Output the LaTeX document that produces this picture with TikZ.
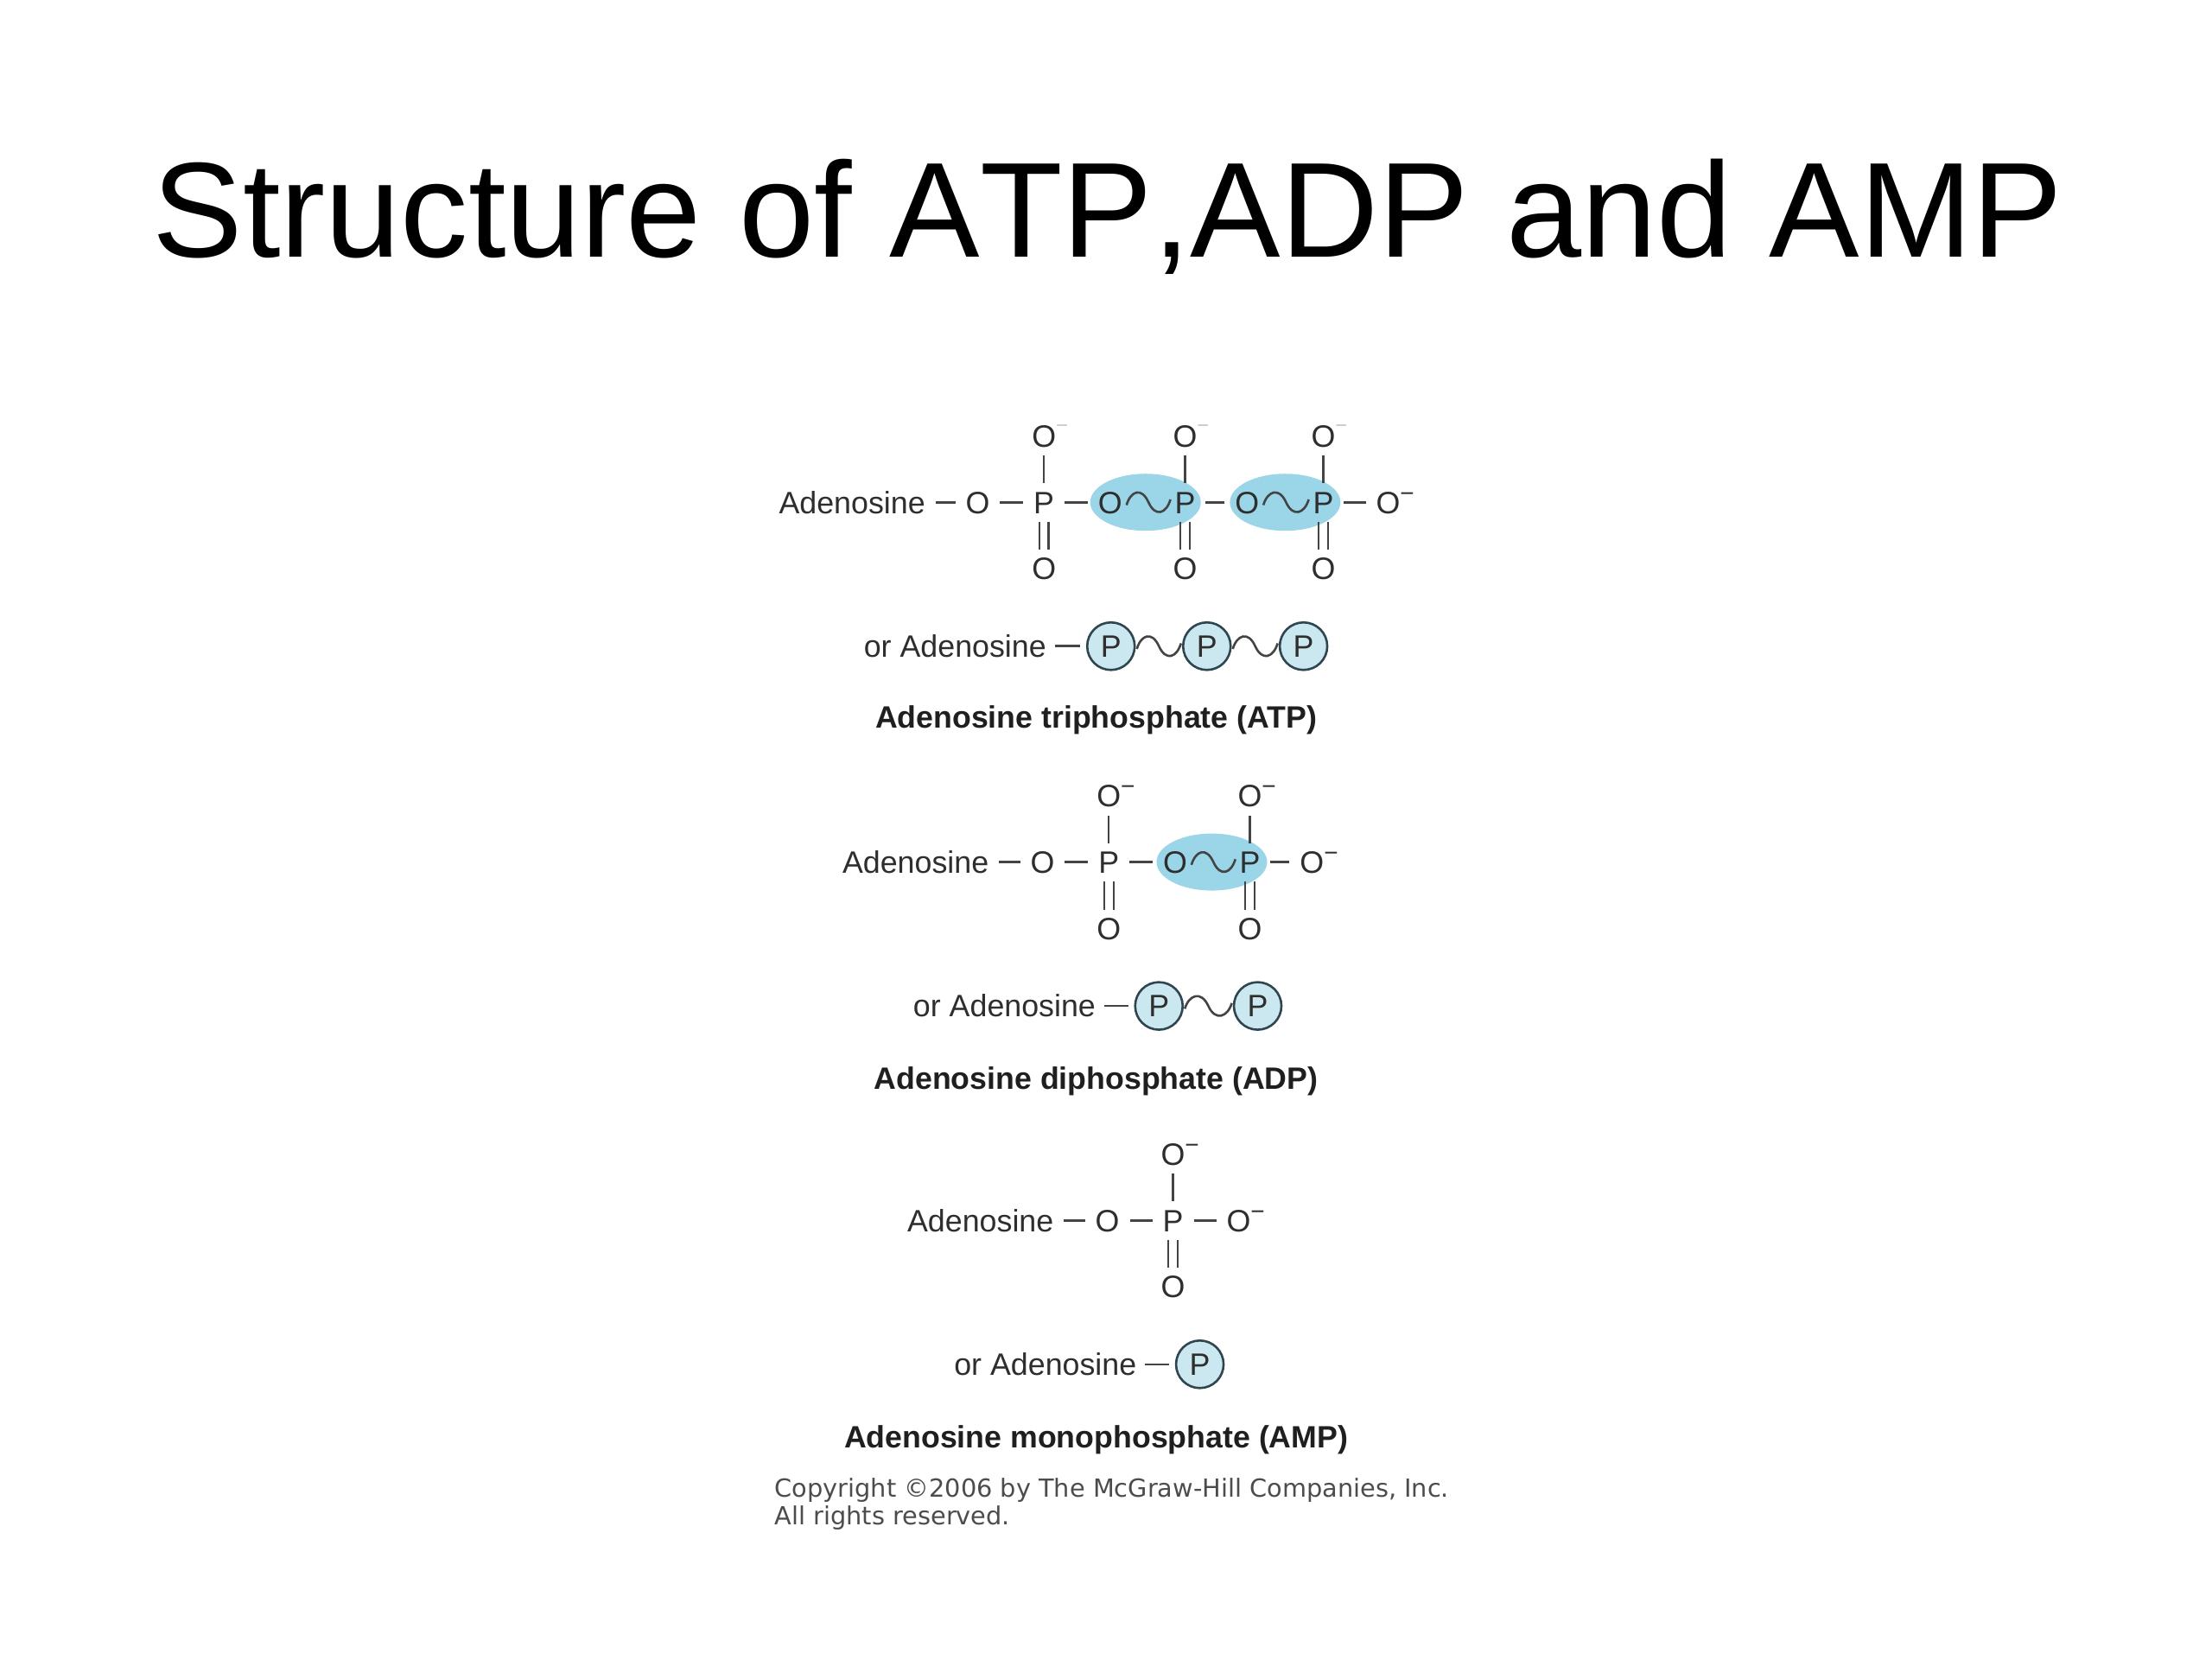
\documentclass[tikz,border=0pt]{standalone}
\usepackage{fontspec}
\setmainfont{Liberation Sans}
\newfontfamily\copyfont{DejaVu Sans}
\newfontfamily\titlefont[Kerning=Off]{Liberation Sans}
\usetikzlibrary{calc,shapes.geometric}
\definecolor{inkdark}{HTML}{2E2E2E}
\definecolor{bondgray}{HTML}{444444}
\definecolor{hilite}{HTML}{9AD6E8}
\definecolor{pfill}{HTML}{CBE8F1}
\definecolor{pline}{HTML}{2F4650}
\newcommand{\omin}{O\rlap{\raisebox{7pt}{\fontsize{14}{14}\selectfont −}}}
\newcommand{\ofaint}{O\rlap{\raisebox{8.5pt}{\textcolor{gray!45}{\fontsize{12}{12}\selectfont −}}}}
\newcommand{\wavelink}[3]{\draw[wavy] ($(#1.east)+(#3,2)$) .. controls +(3,-10) and +(-5,-11) .. ($(#1.east)!.5!(#2.west)$) .. controls +(5,11) and +(-3,10) .. ($(#2.west)+(-#3,-2)$);}
\newcommand{\singlev}[2]{\draw[vbond] (#1) -- (#2);}
\newcommand{\doublev}[2]{\draw[vbond] ([xshift=-2.7pt]#1.south) -- ([xshift=-2.7pt]#2.north);\draw[vbond] ([xshift=2.7pt]#1.south) -- ([xshift=2.7pt]#2.north);}
\tikzset{
  x=0.81633pt,y=-0.81633pt,
  atom/.style={inner sep=0pt,outer sep=0pt,text=inkdark,font=\fontsize{17.9}{20}\selectfont,text height=12.8pt,text depth=0pt},
  hbond/.style={draw=bondgray,line width=1.3pt,shorten <=6pt,shorten >=6pt},
  vbond/.style={draw=bondgray,line width=1.1pt,shorten <=5pt,shorten >=4.5pt},
  ringbond/.style={draw=bondgray,line width=1.3pt,shorten <=5pt,shorten >=4pt},
  wavy/.style={draw=bondgray,line width=1.3pt},
  pcircle/.style={circle,draw=pline,line width=1.3pt,fill=pfill,minimum size=27.5pt,inner sep=0pt,outer sep=0pt,text=inkdark,font=\fontsize{17.9}{20}\selectfont,text height=12.8pt,text depth=0pt},
  blob/.style={ellipse,fill=hilite,draw=none,minimum width=64pt,minimum height=33pt,inner sep=0pt},
  caption/.style={inner sep=0pt,text=black!88,font=\fontsize{17.85}{20}\selectfont\bfseries},
  copyline/.style={inner sep=0pt,anchor=base west,text=black!70,font=\copyfont\fontsize{14.4}{16}\selectfont},
}
\begin{document}
\begin{tikzpicture}
\useasboundingbox (0,0) rectangle (1568,1176);
\node[inner sep=0pt,anchor=base west,text=black,font=\titlefont\fontsize{78.3}{90}\selectfont] (title) at (108,182) {Structure of ATP,ADP and AMP};

% ATP
\node[blob] (e1) at (812,356) {};
\node[blob] (e2) at (911,356) {};
\node[atom] (a0) at (604,356) {Adenosine};
\node[atom] (a1) at (693,356) {O};
\node[atom] (a2) at (740,356) {P};
\node[atom] (a3) at (787,356) {O};
\node[atom] (a4) at (840,356) {P};
\node[atom] (a5) at (884,356) {O};
\node[atom] (a6) at (938,356) {P};
\node[atom] (a7) at (984,356) {\omin};
\node[atom] (a2t) at (740,309) {\ofaint};
\node[atom] (a4t) at (840,309) {\ofaint};
\node[atom] (a6t) at (938,309) {\ofaint};
\node[atom] (a2b) at (740,403) {O};
\node[atom] (a4b) at (840,403) {O};
\node[atom] (a6b) at (938,403) {O};
\draw[hbond] (a0) -- (a1);
\draw[hbond] (a1) -- (a2);
\draw[hbond] (a2) -- (a3);
\wavelink{a3}{a4}{3}
\draw[hbond] (a4) -- (a5);
\wavelink{a5}{a6}{3}
\draw[hbond] (a6) -- (a7);
\singlev{a2t}{a2}\singlev{a4t}{a4}\singlev{a6t}{a6}
\doublev{a2}{a2b}\doublev{a4}{a4b}\doublev{a6}{a6b}

\node[atom] (ao) at (677,458) {or Adenosine};
\node[pcircle] (ap1) at (787.5,458) {P};
\node[pcircle] (ap2) at (855.5,458) {P};
\node[pcircle] (ap3) at (924,458) {P};
\draw[ringbond] (ao) -- (ap1);
\wavelink{ap1}{ap2}{1.5}
\wavelink{ap2}{ap3}{1.5}
\node[caption] (capA) at (777,510.5) {Adenosine triphosphate (ATP)};

% ADP
\node[blob] (e3) at (859,611) {};
\node[atom] (d0) at (649,611) {Adenosine};
\node[atom] (d1) at (739,611) {O};
\node[atom] (d2) at (786,611) {P};
\node[atom] (d3) at (833,611) {O};
\node[atom] (d4) at (886,611) {P};
\node[atom] (d5) at (930,611) {\omin};
\node[atom] (d2t) at (786,564) {\omin};
\node[atom] (d4t) at (886,564) {\omin};
\node[atom] (d2b) at (786,658) {O};
\node[atom] (d4b) at (886,658) {O};
\draw[hbond] (d0) -- (d1);
\draw[hbond] (d1) -- (d2);
\draw[hbond] (d2) -- (d3);
\wavelink{d3}{d4}{3}
\draw[hbond] (d4) -- (d5);
\singlev{d2t}{d2}\singlev{d4t}{d4}
\doublev{d2}{d2b}\doublev{d4}{d4b}

\node[atom] (do) at (712,713) {or Adenosine};
\node[pcircle] (dp1) at (821.5,713) {P};
\node[pcircle] (dp2) at (891.5,713) {P};
\draw[ringbond] (do) -- (dp1);
\wavelink{dp1}{dp2}{1.5}
\node[caption] (capD) at (777,766.5) {Adenosine diphosphate (ADP)};

% AMP
\node[atom] (m0) at (695,865) {Adenosine};
\node[atom] (m1) at (785,865) {O};
\node[atom] (m2) at (831.5,865) {P};
\node[atom] (m3) at (878,865) {\omin};
\node[atom] (m2t) at (831.5,818) {\omin};
\node[atom] (m2b) at (831.5,912) {O};
\draw[hbond] (m0) -- (m1);
\draw[hbond] (m1) -- (m2);
\draw[hbond] (m2) -- (m3);
\singlev{m2t}{m2}
\doublev{m2}{m2b}

\node[atom] (mo) at (741,967) {or Adenosine};
\node[pcircle] (mp1) at (850.5,967) {P};
\draw[ringbond] (mo) -- (mp1);
\node[caption] (capM) at (777,1020.5) {Adenosine monophosphate (AMP)};

\node[copyline] (c1) at (549,1061) {Copyright ©2006 by The McGraw-Hill Companies, Inc.};
\node[copyline] (c2) at (549,1081) {All rights reserved.};
\end{tikzpicture}
\end{document}
